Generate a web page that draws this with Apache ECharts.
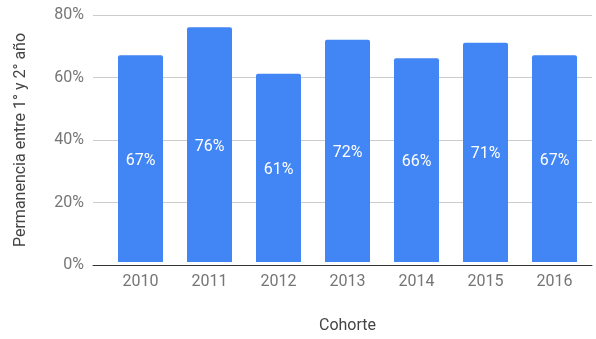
<!DOCTYPE html>
<html>
<head>
<meta charset="utf-8">
<script src="https://cdn.jsdelivr.net/npm/echarts@6/dist/echarts.min.js"></script>
<style>
  html, body { margin: 0; padding: 0; background: #ffffff; }
  #chart { width: 596px; height: 339px; }
</style>
</head>
<body>
<div id="chart"></div>
<script>
// Cohorts and first-to-second-year retention (%)
const cohortes = ['2010', '2011', '2012', '2013', '2014', '2015', '2016'];
const permanencia = [67, 76, 61, 72, 66, 71, 67];
const yTicks = [0, 20, 40, 60, 80];

const FONT = 'Roboto, "Noto Sans", sans-serif';
const yMin = yTicks[0];
const yMax = yTicks[yTicks.length - 1];
const yStep = yTicks[1] - yTicks[0];

const chart = echarts.init(document.getElementById('chart'), null, { renderer: 'canvas' });

chart.setOption({
  animation: false,
  textStyle: { fontFamily: FONT },
  grid: [
    // gridlines + baseline span the full plot width
    { left: 93, right: 4, top: 15, bottom: 74 },
    // bars sit in a slightly inset band
    { left: 106, right: 7, top: 15, bottom: 74 }
  ],
  xAxis: [
    {
      gridIndex: 0,
      type: 'category',
      data: cohortes,
      axisLine: { show: true, lineStyle: { color: '#333333', width: 1 } },
      axisTick: { show: false },
      axisLabel: { show: false },
      z: 3
    },
    {
      gridIndex: 1,
      type: 'category',
      data: cohortes,
      axisLine: { show: false },
      axisTick: { show: false },
      axisLabel: { color: '#757575', fontSize: 16, margin: 12, fontFamily: FONT },
      name: 'Cohorte',
      nameLocation: 'middle',
      nameGap: 56,
      nameTextStyle: { color: '#444444', fontSize: 16, fontFamily: FONT }
    }
  ],
  yAxis: [
    {
      gridIndex: 0,
      type: 'value',
      min: yMin,
      max: yMax,
      interval: yStep,
      axisLine: { show: false },
      axisTick: { show: false },
      splitLine: { lineStyle: { color: '#cccccc', width: 1 } },
      axisLabel: {
        color: '#757575', fontSize: 16, margin: 9, fontFamily: FONT,
        formatter: v => v + '%'
      },
      name: 'Permanencia entre 1° y 2° año',
      nameLocation: 'middle',
      nameGap: 64,
      nameTextStyle: { color: '#444444', fontSize: 16, fontFamily: FONT }
    },
    {
      gridIndex: 1,
      type: 'value',
      min: yMin,
      max: yMax,
      interval: yStep,
      show: false,
      splitLine: { show: false }
    }
  ],
  series: [
    {
      type: 'bar',
      xAxisIndex: 1,
      yAxisIndex: 1,
      data: permanencia,
      barWidth: 45,
      itemStyle: { color: '#4285f4', borderRadius: [2, 2, 0, 0] },
      label: {
        show: true,
        position: 'inside',
        offset: [0, 2],
        color: '#ffffff',
        fontSize: 16,
        fontFamily: FONT,
        formatter: p => p.value + '%'
      }
    }
  ]
});
</script>
</body>
</html>
